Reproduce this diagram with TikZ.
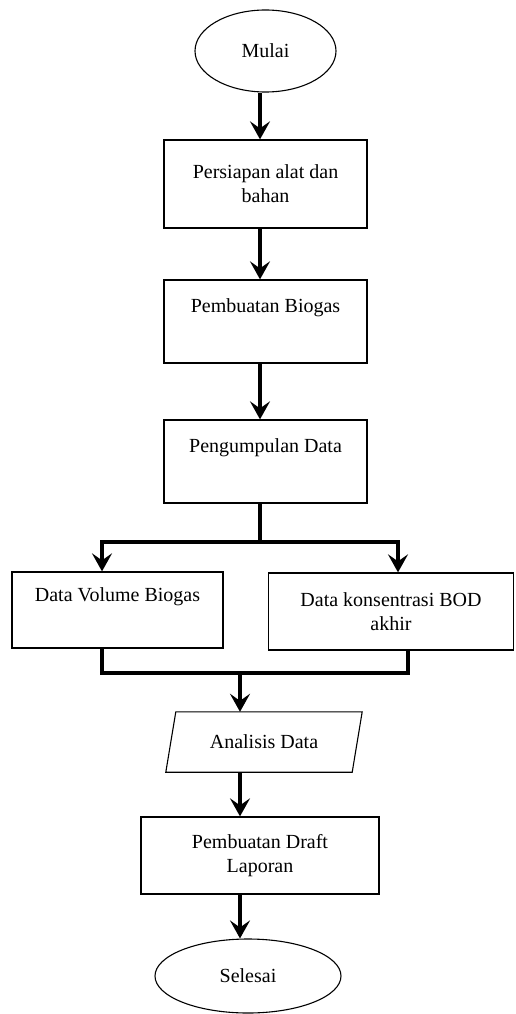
\documentclass[tikz,border=0pt]{standalone}
\usepackage{fontspec}
\setmainfont{Liberation Serif}
\usetikzlibrary{shapes.geometric,arrows.meta}
\begin{document}
\begin{tikzpicture}[x=1pt,y=1pt,
  every node/.style={font=\fontsize{20}{24}\selectfont},
  procbox/.style={draw, line width=1.3pt, rectangle, inner sep=0pt, align=center},
  term/.style={draw, ellipse, line width=1.1pt, inner sep=0pt},
  iobox/.style={rectangle, inner sep=0pt, align=center},
  ioline/.style={line width=1.1pt, line join=miter},
  flow/.style={line width=3.2pt, -{Stealth[length=18pt,width=20pt,inset=7pt]}},
  link/.style={line width=3.2pt}
]
\useasboundingbox (0,0) rectangle (515,-1014);
\fill[white] (0,0) rectangle (515,-1014);

\coordinate (colA) at (260,0);
\coordinate (colB) at (240,0);
\coordinate (split) at (260,-542);
\coordinate (merge) at (240,-673);

\node[term, minimum width=141pt, minimum height=82pt] (mulai) at (265.5,-51) {Mulai};
\node[procbox, minimum width=203pt, minimum height=88pt] (persiapan) at (265.5,-184) {Persiapan alat dan\\bahan};
\node[procbox, minimum width=203pt, minimum height=83pt] (biogas) at (265.5,-321.5) {Pembuatan Biogas\\\strut};
\node[procbox, minimum width=203pt, minimum height=83pt] (pengumpulan) at (265.5,-461.5) {Pengumpulan Data\\\strut};
\node[procbox, minimum width=211pt, minimum height=76pt] (volume) at (117.5,-610) {Data Volume Biogas\\\strut};
\node[procbox, minimum width=245pt, minimum height=77pt] (bod) at (391,-611.5) {Data konsentrasi BOD\\akhir};
\node[iobox, minimum width=196pt, minimum height=60pt] (analisis) at (264,-742) {Analisis Data};
\draw[ioline] ([xshift=10pt]analisis.north west) -- (analisis.north east)
  -- ([xshift=-10pt]analisis.south east) -- (analisis.south west) -- cycle;
\node[procbox, minimum width=238pt, minimum height=77pt] (draft) at (260,-855.5) {Pembuatan Draft\\Laporan};
\node[term, minimum width=186pt, minimum height=74pt] (selesai) at (248,-976) {Selesai};

\draw[flow] (mulai.south -| colA) -- (persiapan.north -| colA);
\draw[flow] (persiapan.south -| colA) -- (biogas.north -| colA);
\draw[flow] (biogas.south -| colA) -- (pengumpulan.north -| colA);
\draw[link] (pengumpulan.south -| colA) -- (split);
\draw[flow] (split) -| ([xshift=-15.5pt]volume.north);
\draw[flow] (split) -| ([xshift=7pt]bod.north);
\draw[link] ([xshift=-15.5pt]volume.south) |- (merge) -| ([xshift=17pt]bod.south);
\draw[flow] (merge) -- (analisis.north -| merge);
\draw[flow] (analisis.south -| colB) -- (draft.north -| colB);
\draw[flow] (draft.south -| colB) -- (selesai.north -| colB);
\end{tikzpicture}
\end{document}
